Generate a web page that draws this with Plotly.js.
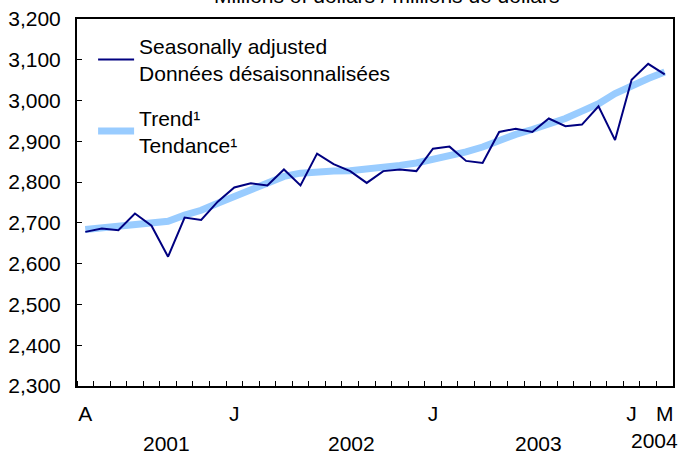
<!DOCTYPE html>
<html>
<head>
<meta charset="utf-8">
<script src="https://cdn.plot.ly/plotly-3.0.1.min.js"></script>
<style>html,body{margin:0;padding:0;background:#fff;}#chart{width:684px;height:457px;}</style>
</head>
<body>
<div id="chart"></div>
<script>
// Months: April 2001 to March 2004
const months = ['2001-04','2001-05','2001-06','2001-07','2001-08','2001-09','2001-10','2001-11','2001-12',
  '2002-01','2002-02','2002-03','2002-04','2002-05','2002-06','2002-07','2002-08','2002-09','2002-10','2002-11','2002-12',
  '2003-01','2003-02','2003-03','2003-04','2003-05','2003-06','2003-07','2003-08','2003-09','2003-10','2003-11','2003-12',
  '2004-01','2004-02','2004-03'];
const seasonallyAdjusted = [2678,2686,2682,2723,2693,2617,2713,2707,2752,
  2787,2797,2792,2831,2792,2870,2844,2827,2798,2827,2831,2827,
  2882,2887,2852,2847,2923,2931,2923,2956,2937,2941,2986,2903,
  3051,3090,3064];
const trend = [2684,2688,2690,2694,2699,2704,2719,2731,2748,
  2764,2780,2797,2814,2822,2826,2827,2828,2831,2836,2841,2847,
  2855,2862,2874,2886,2903,2917,2929,2942,2956,2974,2992,3017,
  3037,3054,3070];
const tickMonths = ['2001-04','2002-01','2003-01','2004-01','2004-03'];
const tickLabels = ['A','J','J','J','M'];
const yearLabels = ['2001','2002','2003','2004'];
const yearPos = [4.9, 16.1, 27.4, 34.4];
const seriesNames = ['Seasonally adjusted<br>Données désaisonnalisées','Trend¹<br>Tendance¹'];
const titleText = 'Millions of dollars / millions de dollars';

const idx = months.map((m, i) => i);
const FONT = 'Liberation Sans, Arial, sans-serif';
const FS = 21;

const traces = [
  {x: idx, y: seasonallyAdjusted, type: 'scatter', mode: 'lines', name: seriesNames[0],
   legendgroup: 'a', line: {color: '#000080', width: 2}},
  {x: idx, y: trend, type: 'scatter', mode: 'lines', name: seriesNames[1],
   legendgroup: 'b', line: {color: '#99CCFF', width: 7}}
];
// draw trend beneath SA line but keep legend order
const plotTraces = [Object.assign({}, traces[1], {showlegend: false, legendgroup: 'b'}),
  Object.assign({}, traces[0]),
  Object.assign({}, traces[1], {x: [null], y: [null]})];

const annotations = yearLabels.map((t, i) => ({
  text: t, x: yearPos[i], xref: 'x', y: (i === 3 ? -0.148 : -0.158), yref: 'paper',
  yanchor: 'middle', xanchor: 'center', showarrow: false, font: {family: FONT, size: FS, color: '#000'}
}));
annotations.push({text: titleText, x: 0.52, xref: 'paper', y: 1.028, yref: 'paper',
  yanchor: 'bottom', xanchor: 'center', showarrow: false, font: {family: FONT, size: FS, color: '#000'}});

const layout = {
  width: 684, height: 457,
  margin: {l: 77, r: 11, t: 19, b: 71},
  paper_bgcolor: '#fff', plot_bgcolor: '#fff',
  font: {family: FONT, size: FS, color: '#000'},
  showlegend: true,
  legend: {x: 0.027, y: 0.982, xanchor: 'left', yanchor: 'top', bgcolor: 'rgba(0,0,0,0)',
    traceorder: 'grouped', tracegroupgap: 14, itemwidth: 36, font: {family: FONT, size: FS, color: '#000'}},
  xaxis: {range: [-0.5, 35.5], showgrid: false, zeroline: false, showline: true, linecolor: '#000', linewidth: 2,
    mirror: true, tickmode: 'array', tickvals: tickMonths.map(m => months.indexOf(m)), ticktext: tickLabels,
    ticks: '', ticklabelstandoff: 8,
    minor: {tick0: -0.5, dtick: 1, ticks: 'inside', ticklen: 5, tickcolor: '#000', tickwidth: 1, showgrid: false}},
  yaxis: {range: [2300, 3200], dtick: 100, tickformat: ',', showgrid: false, zeroline: false,
    showline: true, linecolor: '#000', linewidth: 2, mirror: true, ticks: 'inside', ticklen: 5,
    tickcolor: '#000', ticklabelstandoff: 10},
  annotations: annotations
};
Plotly.newPlot('chart', plotTraces, layout, {staticPlot: true});
</script>
</body>
</html>
